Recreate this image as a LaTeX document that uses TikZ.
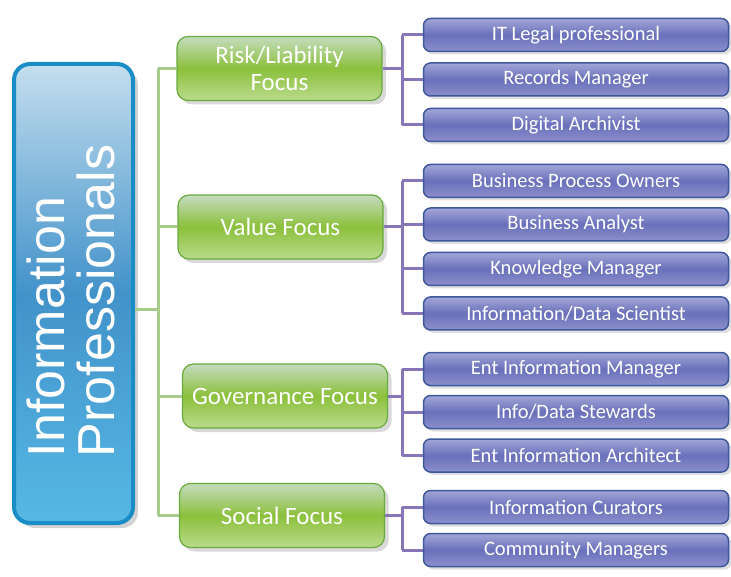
\documentclass[tikz,border=0pt]{standalone}
\usepackage{fontspec}
\setmainfont{Liberation Sans}
\newfontfamily\carlito{Carlito}
\usetikzlibrary{shadows}
\definecolor{mainborder}{RGB}{26,141,198}
\definecolor{maintop}{RGB}{196,222,238}
\definecolor{mainmid}{RGB}{66,146,202}
\definecolor{mainbot}{RGB}{86,184,228}
\definecolor{gtop}{RGB}{196,220,190}
\definecolor{gmid}{RGB}{140,192,60}
\definecolor{gbot}{RGB}{186,219,140}
\definecolor{gborder}{RGB}{104,170,60}
\definecolor{ptop}{RGB}{162,166,216}
\definecolor{pmid}{RGB}{106,112,186}
\definecolor{pbot}{RGB}{140,144,204}
\definecolor{pborder}{RGB}{62,88,156}
\definecolor{gline}{RGB}{168,202,138}
\definecolor{pline}{RGB}{134,118,184}
\begin{document}
\begin{tikzpicture}[x=1pt,y=-1pt,
  mainbox/.style={draw=mainborder, line width=4pt, rounded corners=16pt,
    top color=maintop, bottom color=mainbot, middle color=mainmid,
    minimum width=119pt, minimum height=459pt, inner sep=0pt,
    drop shadow={opacity=0.35, shadow xshift=5pt, shadow yshift=-5pt}},
  maintext/.style={rotate=90, align=left, text=white, inner sep=0pt,
    font=\fontsize{52}{50}\selectfont},
  focusbox/.style={draw=gborder, line width=1.2pt, rounded corners=11pt,
    top color=gtop, bottom color=gbot, middle color=gmid,
    minimum width=205pt, minimum height=64pt, align=center, text=white,
    inner sep=0pt, font=\carlito\fontsize{25}{27}\selectfont,
    drop shadow={opacity=0.3, shadow xshift=4pt, shadow yshift=-4pt}},
  rolebox/.style={draw=pborder, line width=1.5pt, rounded corners=7pt,
    top color=ptop, bottom color=pbot, middle color=pmid,
    minimum width=305pt, minimum height=33pt, text=white, inner sep=0pt,
    font=\carlito\fontsize{20.5}{22}\selectfont,
    drop shadow={opacity=0.25, shadow xshift=3pt, shadow yshift=-3pt}},
  gconn/.style={draw=gline, line width=3pt},
  pconn/.style={draw=pline, line width=3pt}]
\useasboundingbox (0,0) rectangle (731,577);

\node[mainbox] (main) at (73.5,293.5) {};
\node[maintext] (mtext) at (71,301) {Information\\Professionals};

\node[focusbox] (g1) at (279.5,68.5) {Risk/Liability\\Focus};
\node[focusbox] (g2) at (280.5,227) {Value Focus};
\node[focusbox] (g3) at (285,396) {Governance Focus};
\node[focusbox] (g4) at (282,515.5) {Social Focus};

\node[rolebox] (p1) at (576,35) {IT Legal professional};
\node[rolebox] (p2) at (576,79.5) {Records Manager};
\node[rolebox] (p3) at (576,125) {Digital Archivist};
\node[rolebox] (p4) at (576,181) {Business Process Owners};
\node[rolebox] (p5) at (576,224.5) {Business Analyst};
\node[rolebox] (p6) at (576,269) {Knowledge Manager};
\node[rolebox] (p7) at (576,313.5) {Information/Data Scientist};
\node[rolebox] (p8) at (576,369) {Ent Information Manager};
\node[rolebox] (p9) at (576,412) {Info/Data Stewards};
\node[rolebox] (p10) at (576,455.5) {Ent Information Architect};
\node[rolebox] (p11) at (576,507) {Information Curators};
\node[rolebox] (p12) at (576,550) {Community Managers};

% green connectors
\coordinate (hub) at (158,310);
\draw[gconn] (main.east |- hub) -- (hub);
\draw[gconn] (g1.west -| hub) -- (g4.west -| hub);
\foreach \g in {g1,g2,g3,g4} \draw[gconn] (\g.west -| hub) -- (\g.west);

% purple connectors
\coordinate (bus) at (402,0);
\foreach \g/\a/\b/\list in {g1/p1/p3/{p1,p2,p3}, g2/p4/p7/{p4,p5,p6,p7}, g3/p8/p10/{p8,p9,p10}, g4/p11/p12/{p11,p12}}{
  \draw[pconn] (\g.east) -- (\g.east -| bus);
  \draw[pconn] (\a.west -| bus) -- (\b.west -| bus);
  \foreach \p in \list \draw[pconn] (\p.west -| bus) -- (\p.west);
}
\end{tikzpicture}
\end{document}
